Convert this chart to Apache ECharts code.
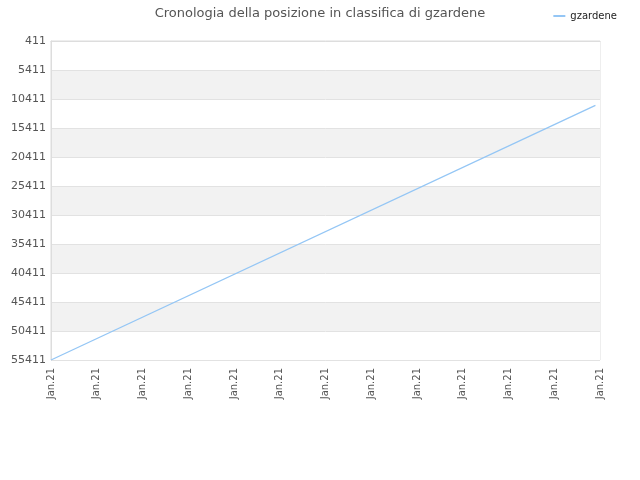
<!DOCTYPE html>
<html>
<head>
<meta charset="utf-8">
<script src="https://cdn.jsdelivr.net/npm/echarts@6/dist/echarts.min.js"></script>
<style>
  html, body { margin: 0; padding: 0; background: #fff; }
  #chart { width: 640px; height: 480px; }
</style>
</head>
<body>
<div id="chart"></div>
<script>
// posizione in classifica (x = indice sull'asse, 0..12)
const xPos = [0, 11.9];
const ranks = [55411, 11500];
const xLabel = 'Jan.21';
const rankTop = 411;       // valore in cima all'asse
const rankStep = 5000;

const chart = echarts.init(document.getElementById('chart'));

// l'asse parte da 0 (multiplo dell'intervallo), le etichette ci aggiungono 411
const points = xPos.map((x, i) => [x, ranks[i] - rankTop]);

const option = {
  animation: false,
  title: {
    text: 'Cronologia della posizione in classifica di gzardene',
    left: 'center',
    top: 2,
    textStyle: { fontFamily: 'DejaVu Sans', fontSize: 13, fontWeight: 'normal', color: '#555' }
  },
  legend: {
    right: 18,
    top: 6,
    itemWidth: 12,
    itemHeight: 2,
    icon: 'rect',
    textStyle: { fontFamily: 'DejaVu Sans', fontSize: 10, color: '#222' },
    data: ['gzardene']
  },
  grid: { left: 51, right: 40, top: 41, bottom: 120, show: true, borderColor: '#ddd', borderWidth: 1 },
  xAxis: {
    type: 'value',
    min: 0,
    max: 12,
    interval: 1,
    axisLine: { show: true, lineStyle: { color: '#ddd' } },
    axisTick: { show: false },
    splitLine: { show: false },
    axisLabel: {
      rotate: 90,
      margin: 8,
      fontFamily: 'DejaVu Sans',
      fontSize: 10,
      color: '#555',
      formatter: () => xLabel
    }
  },
  yAxis: {
    type: 'value',
    inverse: true,
    min: 0,
    max: 55000,
    interval: rankStep,
    axisLine: { show: true, lineStyle: { color: '#ddd' } },
    axisTick: { show: false },
    splitLine: { show: true, lineStyle: { color: '#e2e2e2' } },
    splitArea: { show: true, areaStyle: { color: ['#ffffff', '#f2f2f2'] } },
    axisLabel: {
      fontFamily: 'DejaVu Sans',
      fontSize: 11,
      color: '#555',
      margin: 5,
      padding: [3, 0, 0, 0],
      formatter: v => String(v + rankTop)
    }
  },
  series: [{
    name: 'gzardene',
    type: 'line',
    data: points,
    symbol: 'none',
    lineStyle: { color: '#94c6f5', width: 1.3 },
    itemStyle: { color: '#94c6f5' }
  }]
};

chart.setOption(option);
</script>
</body>
</html>
